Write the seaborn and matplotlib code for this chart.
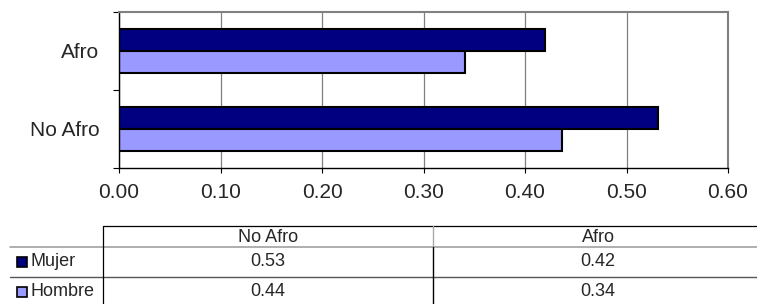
import matplotlib
matplotlib.use('Agg')
import matplotlib.pyplot as plt
from matplotlib.patches import Rectangle
from matplotlib.ticker import FixedLocator
import seaborn as sns
import pandas as pd

groups = ['Afro', 'No Afro']
series = ['Mujer', 'Hombre']
mujer = [0.420, 0.531]
hombre = [0.341, 0.436]
table_cols = ['No Afro', 'Afro']
colors = ['#000080', '#9999FF']

df = pd.DataFrame({
    'grupo': groups * 2,
    'sexo': ['Mujer'] * 2 + ['Hombre'] * 2,
    'valor': mujer + hombre,
})

sns.set_style('white')
plt.rcParams['font.family'] = ['Liberation Sans', 'DejaVu Sans']

fig = plt.figure(figsize=(7.57, 3.04), dpi=100)
W, H = 757, 304

# overlay in pixel coords for the data table
tab = fig.add_axes([0, 0, 1, 1])
tab.set_xlim(0, W)
tab.set_ylim(H, 0)
tab.axis('off')

ax = fig.add_axes([119 / W, 1 - 168 / H, (728 - 119) / W, (168 - 12) / H])
sns.barplot(data=df, y='grupo', x='valor', hue='sexo', order=groups,
            hue_order=series, palette=colors, orient='h', width=0.565,
            edgecolor='black', linewidth=1.5, saturation=1, legend=False, ax=ax)

ax.set_xlim(0, 0.6)
ax.set_ylim(1.5, -0.5)
ax.set_xticks([0, 0.1, 0.2, 0.3, 0.4, 0.5, 0.6])
ax.set_xticklabels([f'{v:.2f}' for v in ax.get_xticks()])
ax.set_xlabel('')
ax.set_ylabel('')
ax.xaxis.grid(True, color='#808080', linewidth=0.9)
ax.set_axisbelow(True)
ax.yaxis.set_minor_locator(FixedLocator([-0.5, 0.5, 1.5]))
ax.tick_params(axis='y', which='major', length=0, pad=14, labelsize=15)
ax.tick_params(axis='y', which='minor', left=True, direction='out', length=4.5, width=0.8, color='black')
ax.tick_params(axis='x', which='major', bottom=True, direction='out', length=3.6, width=0.8, pad=7.5, labelsize=15, color='black')
for s in ['left', 'bottom']:
    ax.spines[s].set_color('black')
    ax.spines[s].set_linewidth(1.0)
for s in ['top', 'right']:
    ax.spines[s].set_color('#808080')
    ax.spines[s].set_linewidth(1.5)

# data table
tab.plot([103, W], [226, 226], color='black', lw=0.9)
tab.plot([10, W], [247, 247], color='#999999', lw=1.1)
tab.plot([10, W], [277, 277], color='#555555', lw=1.0)
tab.plot([103, 103], [226, H], color='black', lw=0.9)
tab.plot([433, 433], [226, 247], color='#aaaaaa', lw=1.0)
tab.plot([433, 433], [247, H], color='black', lw=1.0)

col_x = [268, 598]
vals = {'No Afro': (mujer[1], hombre[1]), 'Afro': (mujer[0], hombre[0])}
for cx, col in zip(col_x, table_cols):
    tab.text(cx, 237, col, ha='center', va='center', fontsize=13)
    tab.text(cx, 262, f'{vals[col][0]:.2f}', ha='center', va='center', fontsize=13)
    tab.text(cx, 292, f'{vals[col][1]:.2f}', ha='center', va='center', fontsize=13)

for name, c, ry in zip(series, colors, [262, 292]):
    tab.add_patch(Rectangle((16.5, ry - 5.5), 10.5, 10.5, facecolor=c, edgecolor='black', lw=1.2))
    tab.text(31, ry, name, ha='left', va='center', fontsize=13)

fig.savefig('out.png', dpi=100)
